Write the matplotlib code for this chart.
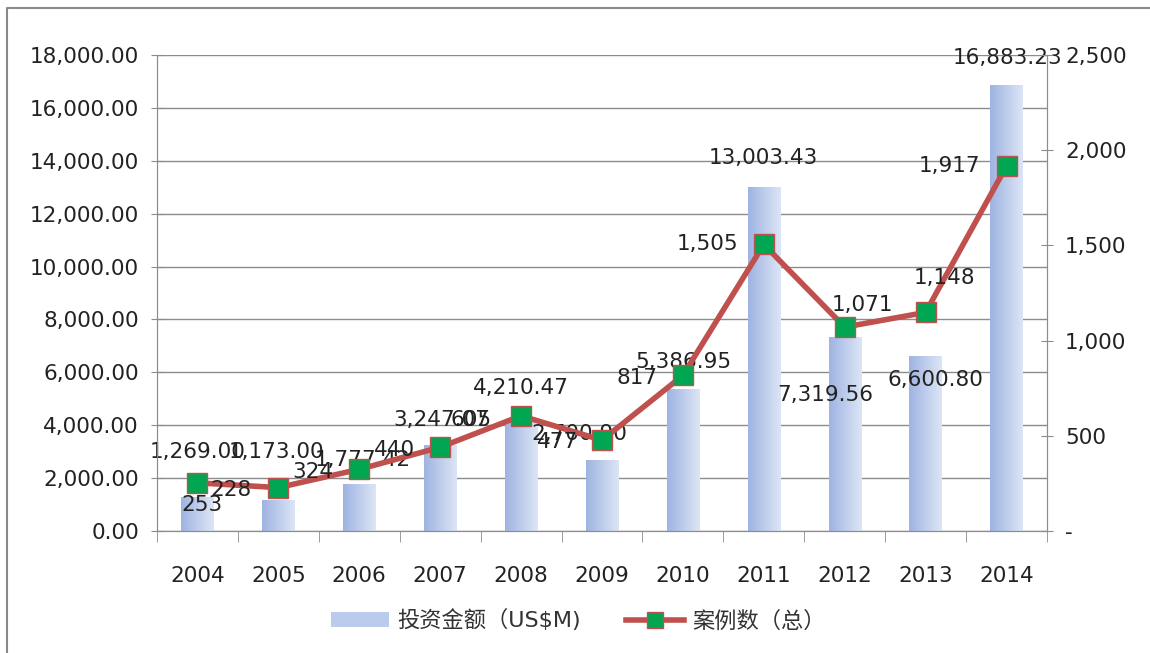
import numpy as np
import matplotlib
matplotlib.use("Agg")
import matplotlib.pyplot as plt
from matplotlib.patches import Rectangle
from matplotlib.lines import Line2D
from matplotlib.ticker import FuncFormatter, FixedLocator

plt.rcParams['font.family'] = ['DejaVu Sans', 'Noto Sans CJK SC']

years = ["2004", "2005", "2006", "2007", "2008", "2009", "2010", "2011", "2012", "2013", "2014"]
invest = [1269.00, 1173.00, 1777.42, 3247.07, 4210.47, 2700.90, 5386.95, 13003.43, 7319.56, 6600.80, 16883.23]
cases = [253, 228, 324, 440, 605, 477, 817, 1505, 1071, 1148, 1917]
bar_name = "投资金额（US$M)"
line_name = "案例数（总）"

# label offsets in pixels (dx, dy) relative to bar top / marker
bar_off = [(0, 45), (-2, 48), (4, 24), (1, 25), (0, 32), (-23, 26), (0, 27), (0, 29), (-19, -58), (10, -24), (1, 27)]
line_off = [(5, -22), (-47, -2), (-46, -3), (-46, -3), (-50, -4), (-44, -2), (-46, -3), (-56, 0), (18, 22), (19, 34), (-57, 0)]

text_col = "#222222"
grid_col = "#8c8c8c"
line_col = "#C0504D"
fs = 15.5

fig = plt.figure(figsize=(11.5, 6.53), dpi=100)
# outer chart frame (only top and left edges fall inside the picture)
fig.add_artist(Line2D([7 / 1150, 7 / 1150, 1.0], [0.0, 1 - 8 / 653, 1 - 8 / 653],
                      transform=fig.transFigure, color="#8a8a8a", linewidth=1.5))
ax = fig.add_axes([0.1365, 0.1868, 0.7739, 0.729])
ax2 = ax.twinx()

x = np.arange(len(years))
bars = ax.bar(x, invest, width=0.4, color="#BBCBEB", zorder=2)

# horizontal gradient inside each bar
grad = np.linspace(0, 1, 64).reshape(1, -1)
cmap = matplotlib.colors.LinearSegmentedColormap.from_list("bg", ["#9FB4E2", "#DCE5F5"])
for b in bars:
    im = ax.imshow(grad, cmap=cmap, aspect="auto", zorder=2.5,
                   extent=[b.get_x(), b.get_x() + b.get_width(), 0, b.get_height()])
    im.set_clip_path(b)

ax.set_xlim(-0.5, len(years) - 0.5)
ax.set_ylim(0, 18000)
ax2.set_ylim(0, 2500)

ax.yaxis.set_major_locator(FixedLocator(np.arange(0, 18001, 2000)))
ax.yaxis.set_major_formatter(FuncFormatter(lambda v, p: f"{v:,.2f}"))
ax2.yaxis.set_major_locator(FixedLocator(np.arange(0, 2501, 500)))
ax2.yaxis.set_major_formatter(FuncFormatter(lambda v, p: "-" if v == 0 else f"{v:,.0f}"))
ax.grid(axis="y", color=grid_col, linewidth=1, zorder=0)
ax.set_axisbelow(True)

ax.set_xticks(x)
ax.set_xticklabels(years)
ax.set_xticks(np.arange(-0.5, len(years)), minor=True)
ax.tick_params(axis="x", which="major", length=0, pad=25, labelsize=fs, labelcolor=text_col)
ax.tick_params(axis="x", which="minor", length=8, color=grid_col, direction="out")
ax.tick_params(axis="y", length=8, color=grid_col, direction="inout", labelsize=fs, labelcolor=text_col, pad=9)
ax2.tick_params(axis="y", length=8, color=grid_col, direction="inout", labelsize=fs, labelcolor=text_col, pad=9)

for a in (ax, ax2):
    for s in a.spines.values():
        s.set_color(grid_col)
    a.spines["top"].set_visible(False)

ax2.plot(x, cases, color=line_col, linewidth=4, marker="s", markersize=14.5,
         markerfacecolor="#00A651", markeredgecolor="#C0504D", markeredgewidth=1, zorder=5)

for i, v in enumerate(invest):
    ax.annotate(f"{v:,.2f}", (x[i], v), xytext=(bar_off[i][0], bar_off[i][1]),
                textcoords="offset pixels", ha="center", va="center", fontsize=fs, color=text_col, zorder=6)
for i, v in enumerate(cases):
    ax2.annotate(f"{v:,}", (x[i], v), xytext=(line_off[i][0], line_off[i][1]),
                 textcoords="offset pixels", ha="center", va="center", fontsize=fs, color=text_col, zorder=6)

handles = [Rectangle((0, 0), 1, 1, facecolor="#BBCBEB", edgecolor="none"),
           Line2D([], [], color=line_col, linewidth=4, marker="s", markersize=12,
                  markerfacecolor="#00A651", markeredgecolor="#C0504D")]
fig.legend(handles, [bar_name, line_name], loc="center", bbox_to_anchor=(0.503, 0.05), ncol=2,
           frameon=False, fontsize=16, handlelength=2.6, handleheight=0.6, handletextpad=0.4,
           columnspacing=2.0, labelcolor="#333333")

fig.savefig("out.png", dpi=100)
